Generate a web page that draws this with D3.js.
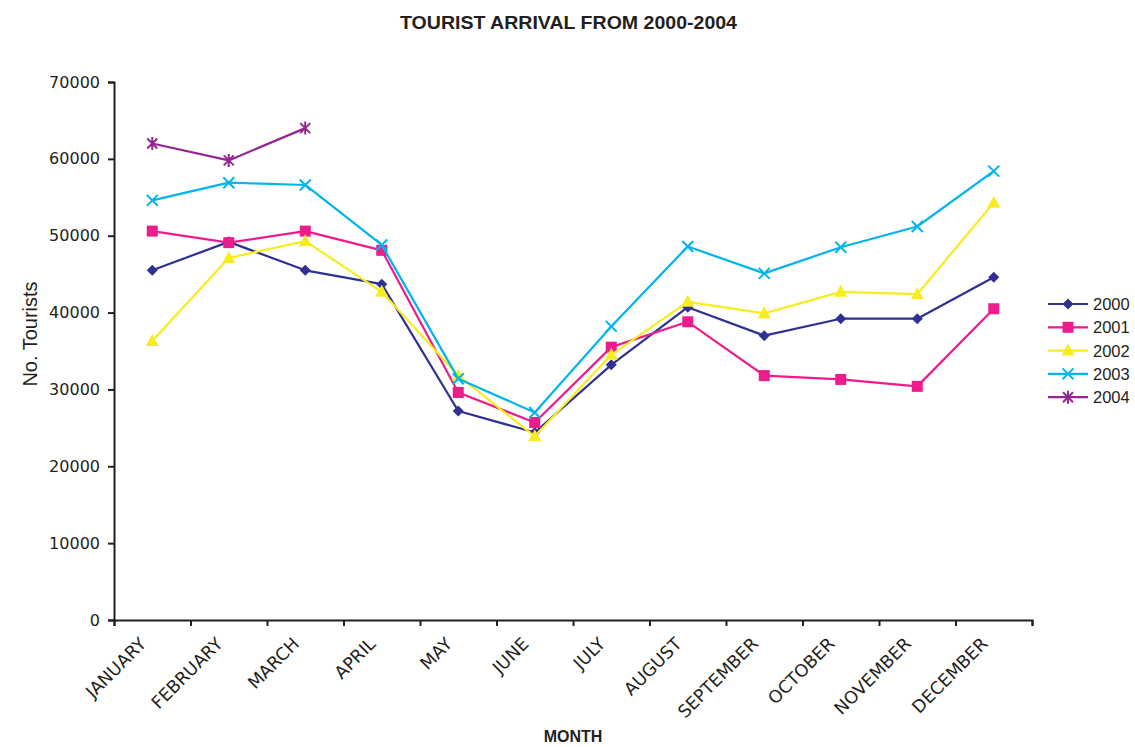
<!DOCTYPE html>
<html>
<head>
<meta charset="utf-8">
<script src="https://cdn.jsdelivr.net/npm/d3@7"></script>
<style>
  html, body { margin: 0; padding: 0; background: #ffffff; }
  svg { display: block; }
</style>
</head>
<body>
<svg id="chart" width="1135" height="747"></svg>
<script>
// Monthly tourist arrivals, 2000-2004
const months = ["JANUARY", "FEBRUARY", "MARCH", "APRIL", "MAY", "JUNE", "JULY",
                "AUGUST", "SEPTEMBER", "OCTOBER", "NOVEMBER", "DECEMBER"];
const years = ["2000", "2001", "2002", "2003", "2004"];
const arrivals2000 = [45500, 49200, 45500, 43700, 27200, 24400, 33200, 40700, 37000, 39200, 39200, 44600];
const arrivals2001 = [50600, 49100, 50600, 48100, 29600, 25700, 35500, 38800, 31800, 31300, 30400, 40500];
const arrivals2002 = [36300, 47100, 49300, 42700, 31800, 23900, 34500, 41400, 39900, 42700, 42400, 54300];
const arrivals2003 = [54600, 56900, 56600, 48800, 31400, 27000, 38200, 48600, 45100, 48500, 51200, 58400];
const arrivals2004 = [62000, 59800, 64000];
const yTicks = [0, 10000, 20000, 30000, 40000, 50000, 60000, 70000];

const seriesValues = [arrivals2000, arrivals2001, arrivals2002, arrivals2003, arrivals2004];
const colors = ["#2e3192", "#ec1c8c", "#f7ec1e", "#00b4ec", "#92278f"];
const markers = ["diamond", "square", "triangle", "cross", "star"];

const svg = d3.select("#chart");
const axisColor = "#231f20";

const plot = { left: 114, right: 1032, top: 82, bottom: 620 };

const x = d3.scaleBand().domain(months).range([plot.left, plot.right]).padding(0);
const xEdge = d3.scaleLinear().domain([0, months.length]).range([plot.left, plot.right]);
const y = d3.scaleLinear().domain([0, 70000]).range([plot.bottom, plot.top]);

// Title
svg.append("text")
  .attr("x", 568.5).attr("y", 29)
  .attr("text-anchor", "middle")
  .attr("font-family", "Liberation Sans, Arial, sans-serif")
  .attr("font-weight", "bold").attr("font-size", 19)
  .attr("textLength", 337).attr("lengthAdjust", "spacingAndGlyphs")
  .attr("fill", axisColor)
  .text("TOURIST ARRIVAL FROM 2000-2004");

// Y axis
const yAxis = svg.append("g")
  .attr("transform", `translate(${plot.left},0)`)
  .call(d3.axisLeft(y).tickValues(yTicks).tickSize(6).tickPadding(8).tickFormat(d3.format("d")));
yAxis.select(".domain").attr("stroke", axisColor).attr("stroke-width", 2);
yAxis.selectAll(".tick line").attr("stroke", axisColor).attr("stroke-width", 2);
yAxis.selectAll(".tick text")
  .attr("font-family", "DejaVu Sans, Verdana, sans-serif")
  .attr("font-size", 16).attr("fill", axisColor);

// X axis: ticks on category boundaries
const xTicks = svg.append("g")
  .attr("transform", `translate(0,${plot.bottom})`)
  .call(d3.axisBottom(xEdge).tickValues(d3.range(0, months.length + 1)).tickSize(6).tickFormat(""));
xTicks.select(".domain").attr("stroke", axisColor).attr("stroke-width", 2);
xTicks.selectAll(".tick line").attr("stroke", axisColor).attr("stroke-width", 2);

// Month labels, rotated
svg.append("g").selectAll("text")
  .data(months)
  .join("text")
  .attr("transform", d => `translate(${x(d) + x.bandwidth() / 2 - 5},645) rotate(-45)`)
  .attr("text-anchor", "end")
  .attr("font-family", "DejaVu Sans, Verdana, sans-serif")
  .attr("font-size", 17.5).attr("fill", axisColor)
  .text(d => d);

// Axis titles
svg.append("text")
  .attr("x", 573).attr("y", 742)
  .attr("text-anchor", "middle")
  .attr("font-family", "Liberation Sans, Arial, sans-serif")
  .attr("font-weight", "bold").attr("font-size", 16)
  .attr("fill", axisColor)
  .text("MONTH");

svg.append("text")
  .attr("transform", "translate(37,334) rotate(-90)")
  .attr("text-anchor", "middle")
  .attr("font-family", "Liberation Sans, Arial, sans-serif")
  .attr("font-size", 20)
  .attr("fill", axisColor)
  .text("No. Tourists");

// Marker drawing
function drawMarker(g, type, color) {
  if (type === "diamond") {
    g.append("path").attr("d", "M0,-5.5L5.5,0L0,5.5L-5.5,0Z").attr("fill", color);
  } else if (type === "square") {
    g.append("rect").attr("x", -5.5).attr("y", -5.5).attr("width", 11).attr("height", 11).attr("fill", color);
  } else if (type === "triangle") {
    g.append("path").attr("d", "M0,-7L6.5,5L-6.5,5Z").attr("fill", color);
  } else if (type === "cross") {
    g.append("path").attr("d", "M-5.5,-5.5L5.5,5.5M-5.5,5.5L5.5,-5.5")
      .attr("stroke", color).attr("stroke-width", 2).attr("fill", "none");
  } else if (type === "star") {
    g.append("path").attr("d", "M-5,-5L5,5M-5,5L5,-5M0,-6.5L0,6.5")
      .attr("stroke", color).attr("stroke-width", 2).attr("fill", "none");
  }
}

const line = d3.line()
  .x((d, i) => x(months[i]) + x.bandwidth() / 2)
  .y(d => y(d));

seriesValues.forEach((vals, si) => {
  const g = svg.append("g").attr("class", "series-" + years[si]);
  g.append("path")
    .datum(vals)
    .attr("d", line)
    .attr("fill", "none")
    .attr("stroke", colors[si])
    .attr("stroke-width", 2.2)
    .attr("stroke-linejoin", "round");
  vals.forEach((v, i) => {
    const m = g.append("g")
      .attr("transform", `translate(${x(months[i]) + x.bandwidth() / 2},${y(v)})`);
    drawMarker(m, markers[si], colors[si]);
  });
});

// Legend
const legend = svg.append("g");
years.forEach((yr, i) => {
  const ly = 304 + i * 23.3;
  const row = legend.append("g").attr("transform", `translate(0,${ly})`);
  row.append("line")
    .attr("x1", 1048).attr("x2", 1088)
    .attr("stroke", colors[i]).attr("stroke-width", 2.2);
  const m = row.append("g").attr("transform", "translate(1068,0)");
  drawMarker(m, markers[i], colors[i]);
  row.append("text")
    .attr("x", 1093).attr("y", 6)
    .attr("font-family", "Liberation Sans, Arial, sans-serif")
    .attr("font-size", 16.5).attr("fill", axisColor)
    .text(yr);
});
</script>
</body>
</html>
